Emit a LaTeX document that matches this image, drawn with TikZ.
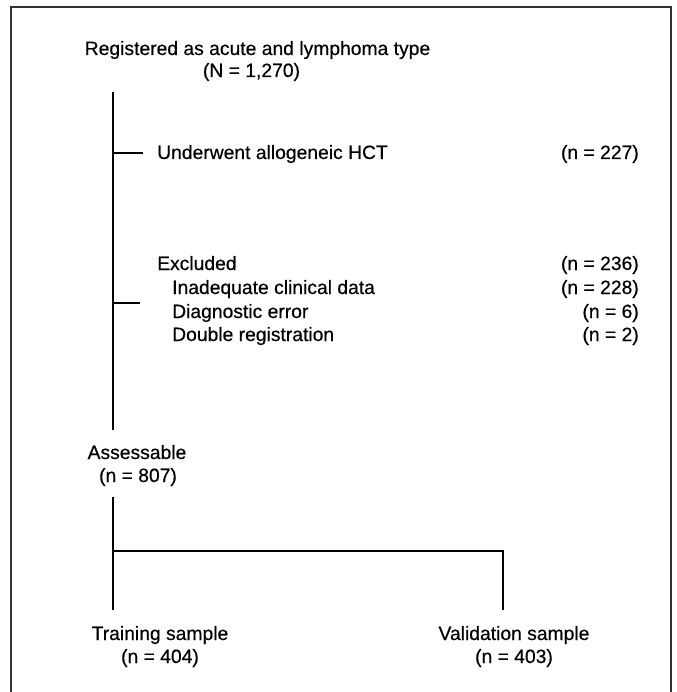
\documentclass[tikz,border=0pt]{standalone}
\usepackage{fontspec}
\setmainfont[FakeBold=0.4]{Liberation Sans}
\begin{document}
\begin{tikzpicture}[x=1pt,y=-1pt,
  lbl/.style={inner sep=0pt, font=\fontsize{19.3}{23}\selectfont},
  tree/.style={line width=2.8pt},
  frameline/.style={line width=1.3pt, draw=black!80}]
\useasboundingbox (0,0) rectangle (676,692);
\draw[frameline] (11,700) -- (11,7) -- (671,7) -- (671,700);
% texts
\node[lbl, anchor=base] (title) at (257.5,55) {Registered as acute and lymphoma type};
\node[lbl, anchor=base] (titleN) at (251.5,77) {(N = 1,270)};
\node[lbl, anchor=base west] (hct) at (157,159) {Underwent allogeneic HCT};
\node[lbl, anchor=base east] (hctn) at (639,159) {(n = 227)};
\node[lbl, anchor=base west] (excl) at (157,270) {Excluded};
\node[lbl, anchor=base east] (excln) at (639,270) {(n = 236)};
\node[lbl, anchor=base west] (inad) at (172,294) {Inadequate clinical data};
\node[lbl, anchor=base east] (inadn) at (639,294) {(n = 228)};
\node[lbl, anchor=base west] (diag) at (172,318) {Diagnostic error};
\node[lbl, anchor=base east] (diagn) at (639,318) {(n = 6)};
\node[lbl, anchor=base west] (dbl) at (172,341) {Double registration};
\node[lbl, anchor=base east] (dbln) at (639,341) {(n = 2)};
\node[lbl, anchor=base] (assess) at (137,459) {Assessable};
\node[lbl, anchor=base] (assessn) at (138,482) {(n = 807)};
\node[lbl, anchor=base] (train) at (160,640) {Training sample};
\node[lbl, anchor=base] (trainn) at (160,663) {(n = 404)};
\node[lbl, anchor=base] (valid) at (514,640) {Validation sample};
\node[lbl, anchor=base] (validn) at (514,663) {(n = 403)};
% tree
\coordinate (t1) at (113,92);
\coordinate (t2) at (113,430);
\coordinate (b1) at (113,153);
\coordinate (b1e) at (143,153);
\coordinate (b2) at (113,303);
\coordinate (b2e) at (140,303);
\coordinate (s1) at (113,497);
\coordinate (s2) at (113,610);
\coordinate (h1) at (113,551);
\coordinate (h2) at (503,551);
\coordinate (v2) at (503,610);
\draw[tree] (t1) -- (t2);
\draw[tree] (b1) -- (b1e);
\draw[tree] (b2) -- (b2e);
\draw[tree] (s1) -- (s2);
\draw[tree] (h1) -- (h2) -- (v2);
\end{tikzpicture}
\end{document}
